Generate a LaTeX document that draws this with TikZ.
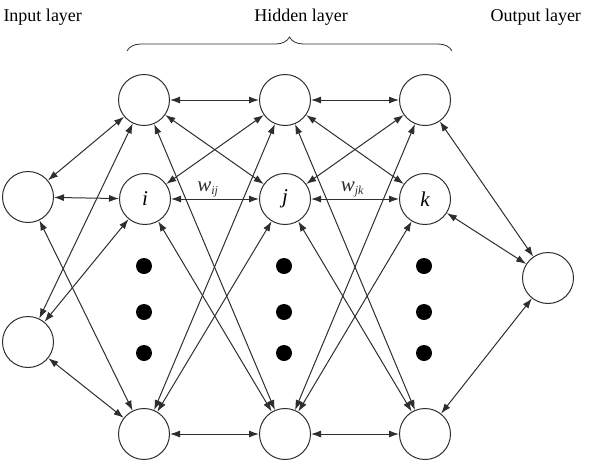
\documentclass[tikz,border=0pt]{standalone}
\usepackage{fontspec}
\setmainfont{Liberation Serif}
\usetikzlibrary{arrows.meta,decorations.pathreplacing}
\definecolor{edgegray}{HTML}{2E2E2E}
\newcommand{\drawneuron}{\node[draw=edgegray,circle,minimum size=51pt,inner sep=0]}
\newcommand{\drawdot}{\node[fill=black,circle,minimum size=16pt,inner sep=0]}
\newcommand{\drawtitle}{\node[font=\fontsize{18}{20}\selectfont,inner sep=0]}
\newcommand{\drawdummy}{\coordinate}
\newcommand{\wsub}[1]{\textit{w}\textsubscript{\fontsize{12}{12}\selectfont\textit{#1}}}

\begin{document}
\begin{tikzpicture}[x=1pt,y=-1pt,line width=1pt,
  every node/.style={font=\fontsize{21}{24}\selectfont\itshape},
  synapse/.style={edgegray,{Latex[length=10pt,width=7pt]}-{Latex[length=10pt,width=7pt]}}]
\useasboundingbox (0,0) rectangle (594,464);
%layer titles
\drawtitle[anchor=base west] (inTitle) at (3,21) {Input layer};
\drawtitle[anchor=base] (hidTitle) at (301,21) {Hidden layer};
\drawtitle[anchor=base west] (outTitle) at (490,21) {Output layer};
\drawdummy (braceLeft) at (127,51);
\drawdummy (braceRight) at (452,51);
\draw[edgegray,line width=0.8pt,decorate,decoration={brace,amplitude=14pt}] (braceLeft) -- (braceRight);

%input layer
\drawneuron (inTop) at (28,197) {};
\drawneuron (inBot) at (28,342) {};

%hidden layer, three columns
\drawneuron (hidOneTop) at (144,100) {};
\drawneuron (hidOneMid) at (145,199) {i};
\drawneuron (hidOneBot) at (144,434) {};
\drawneuron (hidTwoTop) at (285,100) {};
\drawneuron (hidTwoMid) at (285,199) {j};
\drawneuron (hidTwoBot) at (285,434) {};
\drawneuron (hidThreeTop) at (425,100) {};
\drawneuron (hidThreeMid) at (425,199) {k};
\drawneuron (hidThreeBot) at (425,434) {};

\drawdot (dotOneA) at (144,266) {};
\drawdot (dotOneB) at (144,312) {};
\drawdot (dotOneC) at (144,353) {};
\drawdot (dotTwoA) at (284,266) {};
\drawdot (dotTwoB) at (284,312) {};
\drawdot (dotTwoC) at (284,353) {};
\drawdot (dotThreeA) at (424,266) {};
\drawdot (dotThreeB) at (424,312) {};
\drawdot (dotThreeC) at (424,353) {};

%output layer
\drawneuron (outNode) at (548,278) {};

%input <-> first column
\draw[synapse] (inTop) to (hidOneTop);
\draw[synapse] (inTop) to (hidOneMid);
\draw[synapse] (inTop) to (hidOneBot);
\draw[synapse] (inBot) to (hidOneTop);
\draw[synapse] (inBot) to (hidOneMid);
\draw[synapse] (inBot) to (hidOneBot);

%first column <-> second column
\draw[synapse] (hidOneTop) to (hidTwoTop);
\draw[synapse] (hidOneTop) to (hidTwoMid);
\draw[synapse] (hidOneTop) to (hidTwoBot);
\draw[synapse] (hidOneMid) to (hidTwoTop);
\draw[synapse] (hidOneMid) to node [above, pos=0.42, inner sep=1pt] {\wsub{ij}} (hidTwoMid);
\draw[synapse] (hidOneMid) to (hidTwoBot);
\draw[synapse] (hidOneBot) to (hidTwoTop);
\draw[synapse] (hidOneBot) to (hidTwoMid);
\draw[synapse] (hidOneBot) to (hidTwoBot);

%second column <-> third column
\draw[synapse] (hidTwoTop) to (hidThreeTop);
\draw[synapse] (hidTwoTop) to (hidThreeMid);
\draw[synapse] (hidTwoTop) to (hidThreeBot);
\draw[synapse] (hidTwoMid) to (hidThreeTop);
\draw[synapse] (hidTwoMid) to node [above, pos=0.47, inner sep=1pt] {\wsub{jk}} (hidThreeMid);
\draw[synapse] (hidTwoMid) to (hidThreeBot);
\draw[synapse] (hidTwoBot) to (hidThreeTop);
\draw[synapse] (hidTwoBot) to (hidThreeMid);
\draw[synapse] (hidTwoBot) to (hidThreeBot);

%third column <-> output
\draw[synapse] (hidThreeTop) to (outNode);
\draw[synapse] (hidThreeMid) to (outNode);
\draw[synapse] (hidThreeBot) to (outNode);

\end{tikzpicture}
\end{document}
